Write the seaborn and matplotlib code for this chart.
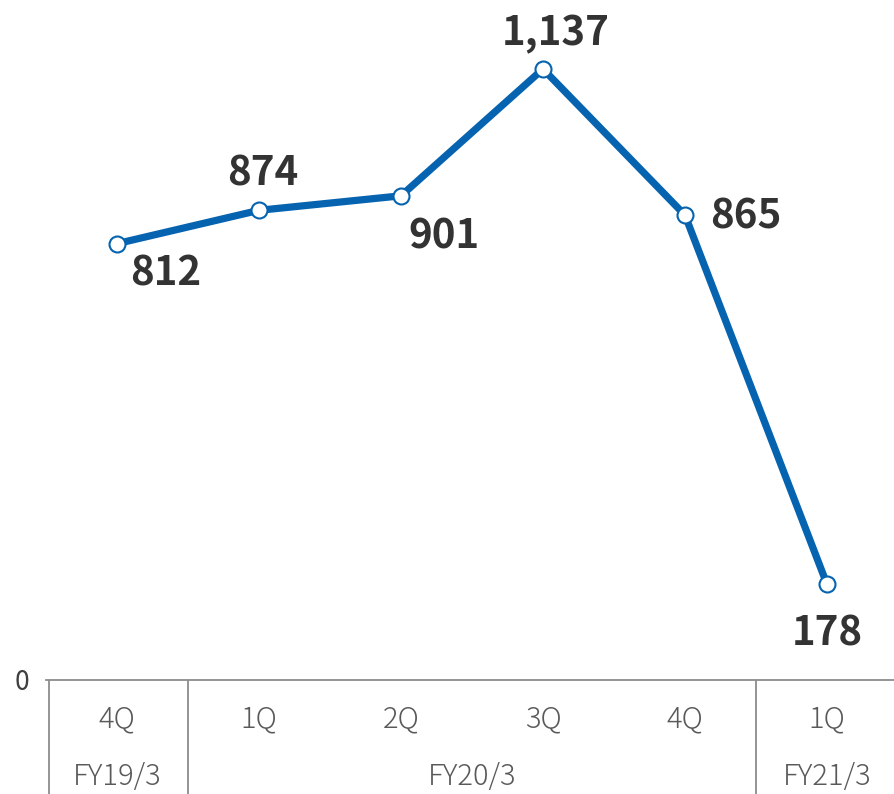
import matplotlib
matplotlib.use("Agg")
import matplotlib.pyplot as plt
import pandas as pd
import seaborn as sns

quarters = ["4Q", "1Q", "2Q", "3Q", "4Q", "1Q"]
values = [812, 874, 901, 1137, 865, 178]
value_labels = ["812", "874", "901", "1,137", "865", "178"]
fiscal_years = ["FY19/3", "FY20/3", "FY21/3"]
fy_spans = [(0, 0), (1, 4), (5, 5)]

# offsets (points) of each value label relative to its point
label_offsets = [(35, -22), (3, 26), (31, -30), (9, 25), (44, -1), (0, -36)]

LINE = "#0563b0"
GRID = "#8c8c8c"
TXT = "#595959"

sns.set_theme(style="white")
plt.rcParams["font.family"] = ["Noto Sans CJK JP", "DejaVu Sans"]

df = pd.DataFrame({"x": range(len(values)), "value": values})

fig = plt.figure(figsize=(8.94, 7.94), dpi=100)
ax = fig.add_axes([46 / 894, 114 / 794, 848 / 894, 680 / 794])
sns.lineplot(data=df, x="x", y="value", ax=ax, color=LINE, linewidth=5.2,
             marker="o", markersize=11.5, markerfacecolor="white",
             markeredgecolor=LINE, markeredgewidth=1.5, zorder=3)

for i, (v, lab) in enumerate(zip(values, value_labels)):
    ax.annotate(lab, (i, v), xytext=label_offsets[i], textcoords="offset points",
                ha="center", va="center", fontsize=29, fontweight="bold",
                color="#333333")

xmax = -0.5 + 848 / 142
ax.set_xlim(-0.5, xmax)
ax.set_ylim(0, 680 / 0.5374)
ax.set_yticks([0])
ax.set_yticklabels(["0"], color="#404040", fontsize=19)
ax.tick_params(axis="y", length=0, pad=12)
ax.set_xticks([])
ax.set_xlabel("")
ax.set_ylabel("")
for s in ["top", "right", "left"]:
    ax.spines[s].set_visible(False)
ax.spines["bottom"].set_color(GRID)
ax.spines["bottom"].set_linewidth(1.3)

# category table under the axis
tab = fig.add_axes([46 / 894, 0, 848 / 894, 114 / 794])
tab.set_xlim(-0.5, xmax)
tab.set_ylim(0, 1)
tab.axis("off")
for i, q in enumerate(quarters):
    tab.text(i, 0.66, q, ha="center", va="center", fontsize=21,
             color=TXT, fontweight="light")
for fy, (a, b) in zip(fiscal_years, fy_spans):
    tab.text((a + b) / 2, 0.15, fy, ha="center", va="center", fontsize=21,
             color=TXT, fontweight="light")
for xb in [-0.48, 0.5, 4.5]:
    tab.axvline(xb, color=GRID, linewidth=1.3)

fig.savefig("out.png", dpi=100)
